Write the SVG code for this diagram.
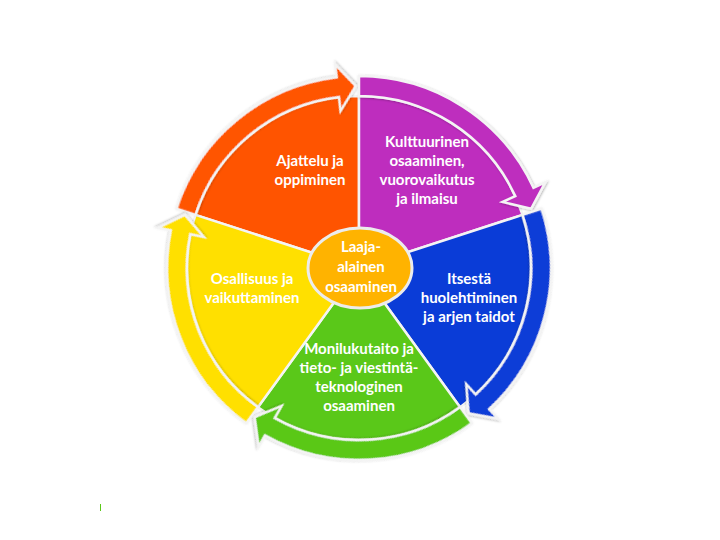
<svg xmlns="http://www.w3.org/2000/svg" xmlns:xlink="http://www.w3.org/1999/xlink" width="720" height="540" viewBox="0 0 720 540">
  <style>
    .wedge { stroke: #f4f4f4; stroke-width: 2.5; stroke-linejoin: round; }
    .band { stroke: #f4f4f4; stroke-width: 2.5; stroke-linejoin: miter; filter: url(#sh); }
    .lbl { font-family: Lato, "Open Sans", "Liberation Sans", sans-serif; font-weight: bold; font-size: 15px; fill: #ffffff; text-anchor: middle; }
  </style>
  <defs>
    <filter id="sh" x="-20%" y="-20%" width="140%" height="140%">
      <feDropShadow dx="0.8" dy="0.8" stdDeviation="1.2" flood-color="#000" flood-opacity="0.3"/>
    </filter>
    <path id="wedgeShape" d="M0,0 L0,-172 A172,172 0 0 1 163.58,-53.15 Z"/>
    <path id="bandShape" d="M0,-192 A192,192 0 0 1 174.46,-80.23 L186.27,-85.66 L172.08,-59.25 L143.57,-66.02 L156.29,-71.87 A172,172 0 0 0 0,-172 Z"/>
  </defs>
  <rect width="720" height="540" fill="#ffffff"/>

  <g id="sector-ajattelu">
    <use xlink:href="#wedgeShape" class="wedge" fill="#FF5400" transform="translate(359,268) rotate(288)"/>
    <text class="lbl" x="310"><tspan x="310" y="166">Ajattelu ja</tspan><tspan x="310" y="185">oppiminen</tspan></text>
  </g>
  <g id="sector-kulttuurinen">
    <use xlink:href="#wedgeShape" class="wedge" fill="#BE2DBE" transform="translate(359,268) rotate(0)"/>
    <text class="lbl"><tspan x="427" y="147">Kulttuurinen</tspan><tspan x="427" y="166">osaaminen,</tspan><tspan x="427" y="185">vuorovaikutus</tspan><tspan x="427" y="204">ja ilmaisu</tspan></text>
  </g>
  <g id="sector-itsesta">
    <use xlink:href="#wedgeShape" class="wedge" fill="#0A3CD7" transform="translate(359,268) rotate(72)"/>
    <text class="lbl"><tspan x="469" y="284">Itsestä</tspan><tspan x="469" y="303">huolehtiminen</tspan><tspan x="469" y="322">ja arjen taidot</tspan></text>
  </g>
  <g id="sector-monilukutaito">
    <use xlink:href="#wedgeShape" class="wedge" fill="#5AC819" transform="translate(359,268) rotate(144)"/>
    <text class="lbl"><tspan x="359" y="354">Monilukutaito ja</tspan><tspan x="359" y="373">tieto- ja viestintä-</tspan><tspan x="359" y="392">teknologinen</tspan><tspan x="359" y="411">osaaminen</tspan></text>
  </g>
  <g id="sector-osallisuus">
    <use xlink:href="#wedgeShape" class="wedge" fill="#FFE000" transform="translate(359,268) rotate(216)"/>
    <text class="lbl"><tspan x="252" y="284">Osallisuus ja</tspan><tspan x="252" y="303">vaikuttaminen</tspan></text>
  </g>

  <g id="connectors">
    <use xlink:href="#bandShape" class="band" fill="#FF5400" transform="translate(359,268) rotate(288)"/>
    <use xlink:href="#bandShape" class="band" fill="#BE2DBE" transform="translate(359,268) rotate(0)"/>
    <use xlink:href="#bandShape" class="band" fill="#0A3CD7" transform="translate(359,268) rotate(72)"/>
    <use xlink:href="#bandShape" class="band" fill="#5AC819" transform="translate(359,268) rotate(144)"/>
    <use xlink:href="#bandShape" class="band" fill="#FFE000" transform="translate(359,268) rotate(216)"/>
  </g>

  <g id="center">
    <ellipse cx="360" cy="268" rx="52" ry="40" fill="#FFB300" stroke="#ececec" stroke-width="3"/>
    <text class="lbl"><tspan x="361" y="252">Laaja-</tspan><tspan x="361" y="272">alainen</tspan><tspan x="361" y="292">osaaminen</tspan></text>
  </g>

  <line x1="100.5" y1="504" x2="100.5" y2="511" stroke="#5AC819" stroke-width="1"/>
</svg>
